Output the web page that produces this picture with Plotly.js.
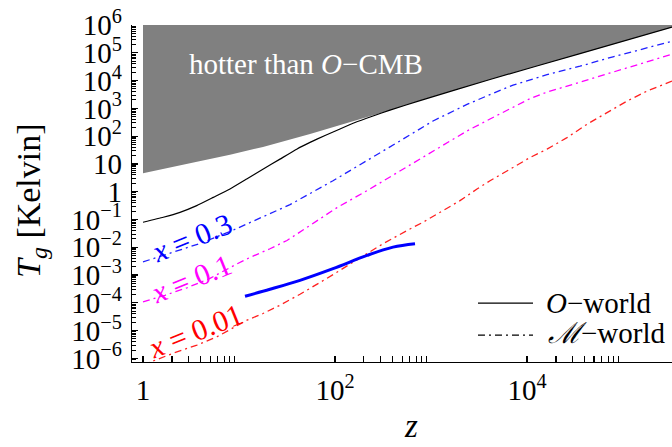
<!DOCTYPE html>
<html>
<head>
<meta charset="utf-8">
<script src="https://cdn.plot.ly/plotly-3.0.1.min.js"></script>
<style>html,body{margin:0;padding:0;background:#fff;}#chart{width:672px;height:447px;}</style>
</head>
<body>
<div id="chart"></div>
<script>
// ---- data (z, T_g in Kelvin) ----
const cmbZ = [1, 1.615, 3.652, 8.058, 17.78, 54.95, 121.2, 248.9, 374, 767.7, 4120, 35650, 324000];
const cmbT = [4.60, 6.67, 11.9, 21.2, 41.0, 120, 269, 552, 861, 1905, 10940, 92900, 834000];
const ceilingT = 1e6;

const oWorldZ = [1, 1.627, 2.429, 3.626, 5.399, 8.058, 12.03, 17.91, 26.73, 39.9, 54.95, 78.7, 112.7, 161.6, 248.9, 374, 767.7, 4120, 35650, 324000];
const oWorldT = [0.0794, 0.1199, 0.1811, 0.315, 0.625, 1.25, 2.85, 6.51, 14.86, 33.9, 59.4, 106, 181, 310, 530, 861, 1905, 10940, 92900, 834000];

const x03Z = [1, 1.91, 3.93, 8.06, 16.5, 34.0, 95.3, 215, 475, 1050, 2370, 4120, 7150, 16150, 35650, 78700, 177800, 324000];
const x03T = [2.97e-3, 6.0e-3, 1.37e-2, 3.68e-2, 0.108, 0.342, 2.48, 12.9, 67.3, 351, 1390, 3125, 6840, 16300, 32800, 71900, 151000, 258000];

const x01Z = [1, 1.695, 2.873, 4.988, 9.532, 13.02, 21.03, 31.62, 46.42, 104.9, 215.4, 475.5, 1049, 2371, 4118, 7147, 10750, 16160, 35660, 78660, 177800, 323900];
const x01T = [1.077e-4, 1.872e-4, 3.476e-4, 7.62e-4, 2.52e-3, 4.31e-3, 8.83e-3, 1.754e-2, 4.17e-2, 0.267, 1.086, 5.66, 29.5, 153.6, 413.5, 1113, 2245, 3839, 8764, 20010, 49590, 88370];

const x001Z = [1, 2.054, 3.652, 5.90, 12.12, 17.78, 26.73, 43.19, 82.54, 121.2, 215.4, 316.2, 562.3, 825.4, 1334, 2004, 3014, 4118, 7147, 10750, 16160, 26100, 42170, 68130, 110100, 177800, 323900];
const x001T = [5.8e-7, 1.524e-6, 3.02e-6, 6.0e-6, 2.38e-5, 4.13e-5, 8.2e-5, 2.03e-4, 7.62e-4, 1.738e-3, 5.85e-3, 1.335e-2, 4.0e-2, 7.94e-2, 0.2085, 0.4757, 1.25, 2.48, 7.43, 16.96, 33.9, 88.3, 267, 695, 1827, 4169, 9510];

const segZ = [11.55, 21.03, 43.19, 95.32, 215.4, 402, 681.3];
const segT = [1.725e-4, 3.07e-4, 6.45e-4, 1.695e-3, 5.08e-3, 1.009e-2, 1.335e-2];

// ---- ticks ----
const yTickVals = [1e-6, 1e-5, 1e-4, 1e-3, 1e-2, 1e-1, 1, 10, 100, 1e3, 1e4, 1e5, 1e6];
const yTickText = ["10<sup>−6</sup>", "10<sup>−5</sup>", "10<sup>−4</sup>", "10<sup>−3</sup>", "10<sup>−2</sup>", "10<sup>−1</sup>", "1", "10", "10<sup>2</sup>", "10<sup>3</sup>", "10<sup>4</sup>", "10<sup>5</sup>", "10<sup>6</sup>"];
const xTickVals = [1, 100, 1e4, 1e6];
const xTickText = ["1", "10<sup>2</sup>", "10<sup>4</sup>", "10<sup>6</sup>"];
const minorMult = [2, 3, 4, 5, 6, 7, 8, 9];
const yMinorDecades = [1e-7, 1e-6, 1e-5, 1e-4, 1e-3, 1e-2, 1e-1, 1, 10, 100, 1e3, 1e4, 1e5];
const xMinorDecades = [1, 100, 1e4];
const topMajorVals = [0.2, 2, 20, 200, 2000, 2e4, 2e5];
const topMinorMult = [1.5, 2, 2.5, 3, 3.5, 4, 4.5, 5];
const topMinorBase = [0.2, 2, 20, 200, 2000, 2e4, 2e5];

const yMinor = [];
yMinorDecades.forEach(d => minorMult.forEach(m => yMinor.push(d * m)));
const xMinor = [];
xMinorDecades.forEach(d => minorMult.forEach(m => xMinor.push(d * m)));
const topMinor = [];
topMinorBase.forEach(d => topMinorMult.forEach(m => topMinor.push(d * m)));

const serif = "Liberation Serif, Times New Roman, serif";
const dashDot = "7px,4px,2px,4px";

const traces = [
  { // region hotter than O-CMB
    x: cmbZ.concat([cmbZ[cmbZ.length - 1], cmbZ[0]]),
    y: cmbT.concat([ceilingT, ceilingT]),
    mode: "lines", fill: "toself", fillcolor: "#808080",
    line: { width: 0, color: "#808080" }, hoverinfo: "skip", showlegend: false
  },
  { x: x001Z, y: x001T, mode: "lines", line: { color: "#ff2020", width: 1.3, dash: dashDot }, showlegend: false },
  { x: x01Z, y: x01T, mode: "lines", line: { color: "#ff00ff", width: 1.3, dash: dashDot }, showlegend: false },
  { x: x03Z, y: x03T, mode: "lines", line: { color: "#2020ff", width: 1.3, dash: dashDot }, showlegend: false },
  { x: segZ, y: segT, mode: "lines", line: { color: "#0000ff", width: 3, shape: "spline" }, showlegend: false },
  { x: oWorldZ, y: oWorldT, mode: "lines", line: { color: "#000000", width: 1.2, shape: "spline", smoothing: 0.4 }, showlegend: false }
];

const xr = [-0.1146, 5.5104];
const layout = {
  width: 672, height: 447,
  margin: { l: 132, r: 0, t: 25, b: 85 },
  paper_bgcolor: "#ffffff", plot_bgcolor: "#ffffff",
  font: { family: serif, size: 29, color: "#000" },
  xaxis: {
    type: "log", range: xr, showgrid: false, zeroline: false,
    showline: true, linecolor: "#000", linewidth: 1.3,
    ticks: "inside", ticklen: 6, tickwidth: 1.2, tickcolor: "#000",
    tickmode: "array", tickvals: xTickVals, ticktext: xTickText,
    tickfont: { family: serif, size: 29, color: "#000" },
    ticklabelstandoff: 2,
    minor: { tickmode: "array", tickvals: xMinor, ticks: "inside", ticklen: 6, tickwidth: 1.2, tickcolor: "#000", showgrid: false }
  },
  xaxis2: {
    type: "log", range: xr, overlaying: "x", side: "top", anchor: "y",
    showgrid: false, zeroline: false, showline: true, linecolor: "#000", linewidth: 1.3,
    ticks: "inside", ticklen: 7, tickwidth: 1.2, tickcolor: "#000",
    tickmode: "array", tickvals: topMajorVals, showticklabels: false,
    minor: { tickmode: "array", tickvals: topMinor, ticks: "inside", ticklen: 4, tickwidth: 1.2, tickcolor: "#000", showgrid: false }
  },
  yaxis: {
    type: "log", range: [-6.13, 6.0], showgrid: false, zeroline: false,
    showline: true, linecolor: "#000", linewidth: 1.3,
    ticks: "inside", ticklen: 6, tickwidth: 1.2, tickcolor: "#000",
    tickmode: "array", tickvals: yTickVals, ticktext: yTickText,
    tickfont: { family: serif, size: 29, color: "#000" },
    ticklabelstandoff: 3,
    minor: { tickmode: "array", tickvals: yMinor, ticks: "inside", ticklen: 4, tickwidth: 1, tickcolor: "#000", showgrid: false }
  },
  shapes: [
    { type: "line", xref: "paper", yref: "paper", x0: 0.6407, x1: 0.7426, y0: 0.175, y1: 0.175, line: { color: "#000", width: 1.3 } },
    { type: "line", xref: "paper", yref: "paper", x0: 0.6407, x1: 0.7426, y0: 0.080, y1: 0.080, line: { color: "#000", width: 1.3, dash: dashDot } }
  ],
  annotations: [
    { xref: "paper", yref: "paper", x: 0.5167, y: -0.249, xanchor: "center", yanchor: "bottom", text: "<i>z</i>", showarrow: false, font: { family: serif, size: 33, color: "#000" } },
    { xref: "paper", yref: "paper", x: -0.187, y: 0.478, xanchor: "center", yanchor: "middle", textangle: -90, text: "<i>T</i><sub><i>g</i></sub> [Kelvin]", showarrow: false, font: { family: serif, size: 34, color: "#000" } },
    { xref: "paper", yref: "paper", x: 0.3222, y: 0.884, xanchor: "center", yanchor: "middle", text: "hotter than <i>O</i>−CMB", showarrow: false, font: { family: serif, size: 29, color: "#ffffff" } },
    { xref: "paper", yref: "paper", x: 0.111, y: 0.368, xanchor: "center", yanchor: "middle", text: "<i>x</i> = 0.3", textangle: -22, showarrow: false, font: { family: serif, size: 30, color: "#0000ff" } },
    { xref: "paper", yref: "paper", x: 0.109, y: 0.249, xanchor: "center", yanchor: "middle", text: "<i>x</i> = 0.1", textangle: -22, showarrow: false, font: { family: serif, size: 30, color: "#ff00ff" } },
    { xref: "paper", yref: "paper", x: 0.1185, y: 0.092, xanchor: "center", yanchor: "middle", text: "<i>x</i> = 0.01", textangle: -22, showarrow: false, font: { family: serif, size: 30, color: "#ff0000" } },
    { xref: "paper", yref: "paper", x: 0.763, y: 0.175, xanchor: "left", yanchor: "middle", text: "<i>O</i>−world", showarrow: false, font: { family: serif, size: 29, color: "#000" } },
    { xref: "paper", yref: "paper", x: 0.766, y: 0.086, xanchor: "left", yanchor: "middle", text: "<i>ℳ</i>−world", showarrow: false, font: { family: serif, size: 29, color: "#000" } }
  ],
  showlegend: false
};

Plotly.newPlot("chart", traces, layout, { displayModeBar: false, staticPlot: true });
</script>
</body>
</html>
